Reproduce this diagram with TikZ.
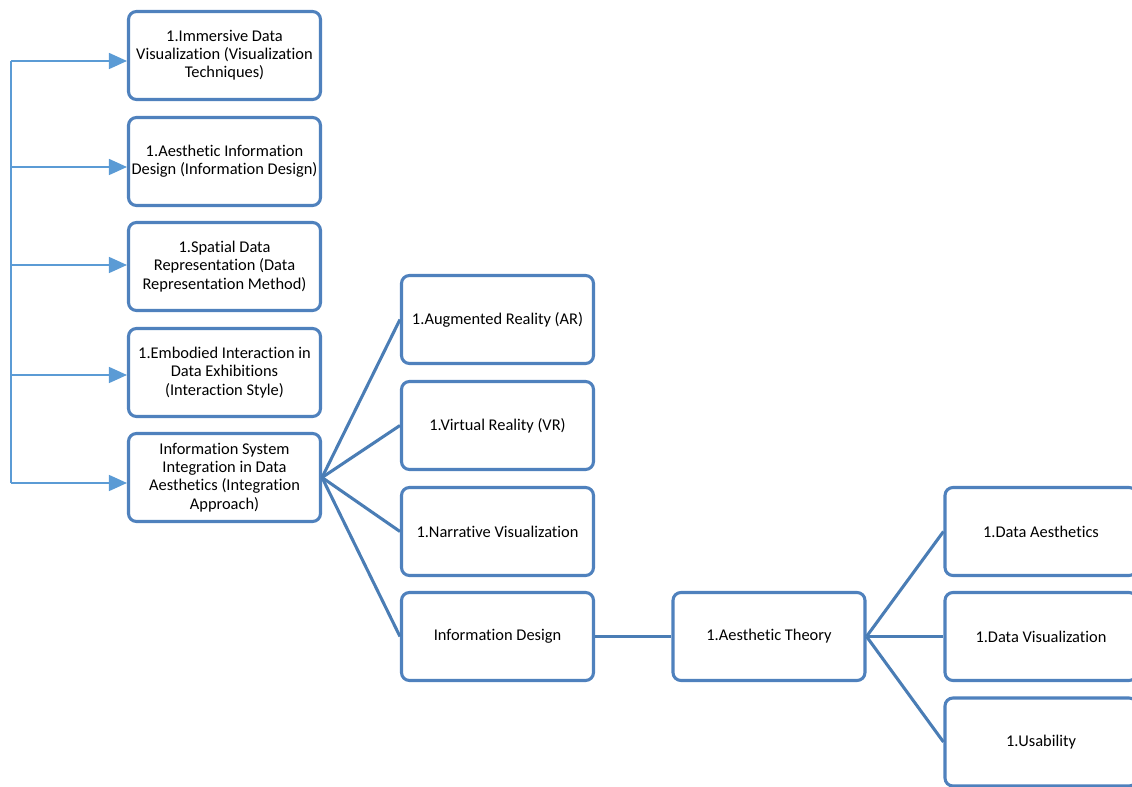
\documentclass[tikz,border=0pt]{standalone}
\usepackage{fontspec}
\setmainfont[Ligatures=NoCommon]{Carlito}
\usetikzlibrary{positioning,arrows.meta,calc}
\definecolor{boxblue}{HTML}{4F81BD}
\definecolor{lineblue}{HTML}{4A7DB5}
\definecolor{arrowblue}{HTML}{5B9BD5}

\begin{document}
\begin{tikzpicture}[
  x=0.75pt, y=-0.75pt,
  box/.style={draw=boxblue, line width=2.3pt, rounded corners=6pt, fill=white,
    minimum width=144pt, minimum height=66pt, align=center, inner sep=2pt,
    font=\fontsize{12.3}{13.6}\selectfont},
  fan/.style={draw=lineblue, line width=2.3pt},
  feed/.style={draw=arrowblue, line width=1.1pt, -{Triangle[length=13.5pt, width=12pt]}}
]
\useasboundingbox (0,0) rectangle (1132,787);
\clip (0,0) rectangle (1132,787);

% Left column
\node[box] (imm) at (224.5,55.5) {1.Immersive Data\\Visualization (Visualization\\Techniques)};
\node[box] (aid) at (224.5,161.5) {1.Aesthetic Information\\Design (Information Design)};
\node[box] (sdr) at (224.5,266.5) {1.Spatial Data\\Representation (Data\\Representation Method)};
\node[box] (emb) at (224.5,372.5) {1.Embodied Interaction in\\Data Exhibitions\\(Interaction Style)};
\node[box] (isi) at (224.5,477.5) {Information System\\Integration in Data\\Aesthetics (Integration\\Approach)};

% Second column
\node[box] (ar) at (497.5,319.5) {1.Augmented Reality (AR)};
\node[box] (vr) at (497.5,425.5) {1.Virtual Reality (VR)};
\node[box] (nv) at (497.5,531.5) {1.Narrative Visualization};
\node[box] (ind) at (497.5,636.5) {Information Design};

% Theory
\node[box] (at) at (769,636.5) {1.Aesthetic Theory};

% Right column (cut by the frame)
\node[box] (da) at (1041,531.5) {1.Data Aesthetics};
\node[box] (dv) at (1041,636.5) {1.Data Visualization};
\node[box] (us) at (1041,742) {1.Usability};

% Feeding rail on the left
\coordinate (rail) at (11,0);
\draw[arrowblue, line width=1.1pt] (rail |- 0,61) -- (rail |- 0,483);
\foreach \n/\dy in {imm/5.5, aid/5.5, sdr/-1.5, emb/2.5, isi/5.5}
  \draw[feed] (rail |- {$(\n.west)+(0,\dy)$}) -- ($(\n.west)+(0,\dy)$);

% Fans
\foreach \n in {ar, vr, nv, ind}
  \draw[fan] (isi.east) -- (\n.west);
\draw[fan] (ind.east) -- (at.west);
\foreach \n in {da, dv, us}
  \draw[fan] (at.east) -- (\n.west);

\end{tikzpicture}
\end{document}
